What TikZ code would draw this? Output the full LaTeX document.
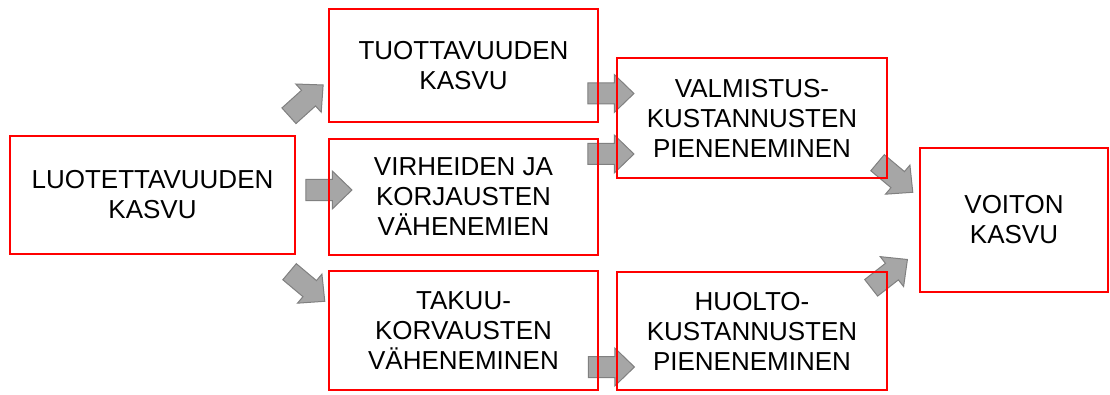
\documentclass[tikz,border=0pt]{standalone}
\usepackage{fontspec}
\setmainfont{Liberation Sans}
\usetikzlibrary{shapes.arrows}
\definecolor{boxred}{RGB}{255,0,0}
\definecolor{arrfill}{RGB}{166,166,166}
\definecolor{arrline}{RGB}{128,128,128}
\begin{document}
\begin{tikzpicture}[x=1pt,y=1pt,
  box/.style={draw=boxred,line width=1.3pt,align=center,inner sep=0pt,
    font=\fontsize{26}{30}\selectfont},
  blk/.style={single arrow,draw=arrline,fill=arrfill,line width=1pt,
    minimum height=46pt,minimum width=37pt,inner xsep=0pt,inner ysep=10pt,
    single arrow head extend=8.5pt,single arrow tip angle=88,anchor=center}]
\useasboundingbox (0,0) rectangle (1110,394);
% arrows
\node[blk,rotate=42] (a1) at (302,290) {};
\node[blk] (a2) at (323.5,204) {};
\node[blk,rotate=-40] (a3) at (303,111) {};
\node[blk] (a4) at (605.5,300.5) {};
\node[blk] (a5) at (605.5,240) {};
\node[blk,rotate=-40] (a6) at (891,220) {};
\node[blk,rotate=38] (a7) at (885,117) {};
\node[blk] (a8) at (606,27) {};
% boxes
\node[box,minimum width=285pt,minimum height=118pt] (L) at (152.5,199) {LUOTETTAVUUDEN\\KASVU};
\node[box,minimum width=269pt,minimum height=113pt] (T) at (463.5,328.5) {TUOTTAVUUDEN\\KASVU};
\node[box,minimum width=269pt,minimum height=116pt] (V) at (463.5,197) {VIRHEIDEN JA\\KORJAUSTEN\\VÄHENEMIEN};
\node[box,minimum width=269pt,minimum height=119pt] (K) at (463.5,63.5) {TAKUU-\\KORVAUSTEN\\VÄHENEMINEN};
\node[box,minimum width=270pt,minimum height=120pt] (M) at (752,276) {VALMISTUS-\\KUSTANNUSTEN\\PIENENEMINEN};
\node[box,minimum width=270pt,minimum height=118pt] (H) at (752,63) {HUOLTO-\\KUSTANNUSTEN\\PIENENEMINEN};
\node[box,minimum width=188pt,minimum height=144pt] (W) at (1014,174) {VOITON\\KASVU};
\end{tikzpicture}
\end{document}
